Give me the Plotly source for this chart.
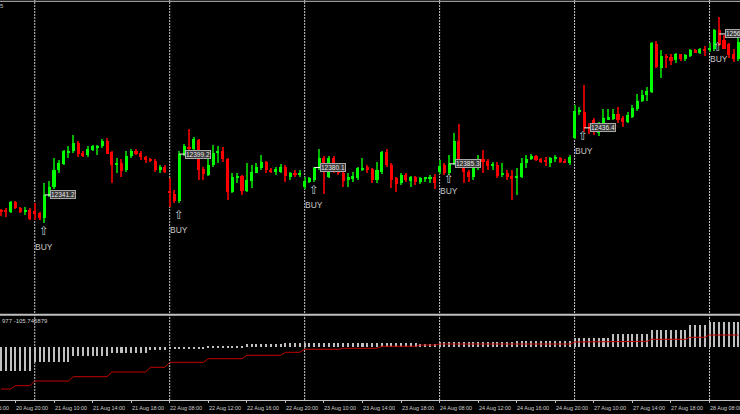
import plotly.graph_objects as go

# ---------------- data (30-minute bars, 20 Aug 18:30 .. 28 Aug) ----------------
opens = [12320, 12320, 12317, 12331, 12323, 12317, 12320, 12319, 12315, 12308,
         12340, 12352, 12376.5, 12385, 12401, 12403, 12415, 12401, 12398, 12405,
         12409, 12410, 12418, 12402, 12383, 12386, 12376, 12396, 12404, 12401,
         12395, 12392, 12390, 12377, 12381, 12346, 12342, 12332, 12398, 12409,
         12407, 12419, 12378, 12369, 12383, 12400.5, 12403, 12392, 12346, 12366,
         12368, 12347, 12361, 12373, 12380, 12388, 12377, 12374, 12374, 12381,
         12367, 12373, 12370, 12352, 12360, 12362, 12379, 12394, 12366, 12393,
         12378, 12372, 12362, 12364, 12365, 12377, 12381, 12378, 12363, 12374,
         12402, 12384, 12365, 12358, 12370, 12361, 12366, 12359, 12364, 12365,
         12367, 12374, 12383, 12372, 12386, 12418, 12388, 12374, 12367, 12380,
         12392, 12389, 12383, 12384, 12369, 12373, 12368, 12366, 12366, 12386,
         12392, 12396.5, 12392, 12391, 12386, 12392, 12393, 12390, 12387, 12422,
         12459, 12459, 12438, 12448, 12429, 12440, 12449, 12449, 12456, 12451,
         12445, 12452, 12463, 12475, 12483, 12488, 12556, 12522, 12538.5, 12537,
         12533, 12541, 12534, 12538, 12547, 12543, 12548, 12547, 12548, 12575,
         12561, 12555, 12542, 12534]
highs = [12321, 12323, 12333, 12333, 12324, 12324, 12323, 12330, 12317, 12358,
         12361, 12393, 12391, 12405, 12411, 12426, 12418, 12404, 12410, 12412,
         12412, 12420, 12422, 12404, 12393, 12392, 12403, 12406, 12406, 12403,
         12397, 12394, 12392, 12384, 12383, 12365, 12348, 12403, 12414, 12435,
         12423, 12421, 12381, 12398, 12412, 12411, 12409, 12394, 12373, 12372,
         12370, 12386, 12384, 12386, 12398, 12390, 12379, 12381, 12385, 12384,
         12374, 12377, 12377, 12367, 12367, 12381, 12407, 12397, 12396, 12396,
         12379.5, 12374, 12373, 12374, 12381, 12393, 12383, 12380, 12388, 12404,
         12407, 12386, 12367, 12372, 12372, 12368, 12368, 12367, 12367, 12370,
         12371, 12391, 12386, 12398, 12429, 12442, 12390, 12376, 12384, 12398,
         12405, 12392, 12388, 12388, 12387, 12377, 12377, 12380, 12393, 12398,
         12399, 12398, 12393.5, 12395, 12395, 12398, 12395, 12392, 12398, 12469,
         12466, 12497, 12444, 12451, 12445, 12463, 12463, 12463, 12466, 12453,
         12459, 12469, 12485, 12490, 12494, 12559, 12560, 12547, 12542, 12542,
         12543, 12542, 12542, 12548, 12548, 12549.5, 12553, 12556.5, 12577, 12594,
         12568, 12557, 12548, 12566]
lows = [12311, 12310, 12316, 12321, 12316, 12313, 12306, 12305, 12305, 12301,
        12338, 12350, 12372, 12383, 12393, 12401, 12395, 12395, 12395, 12403,
        12398, 12408, 12399, 12358, 12373, 12366, 12374, 12394, 12398, 12391,
        12387, 12388, 12374, 12372, 12372, 12324, 12330, 12330, 12396, 12403,
        12405, 12363, 12363, 12368, 12381, 12386, 12388, 12334, 12344, 12358,
        12341, 12345, 12351, 12372, 12377, 12372, 12372, 12369, 12373, 12360,
        12363, 12367, 12366, 12349, 12358, 12360, 12377, 12343, 12365, 12372,
        12369, 12353, 12353, 12360, 12362, 12375, 12372, 12358, 12358, 12371,
        12381, 12351, 12345, 12355, 12360, 12353, 12356, 12357, 12359, 12358,
        12349, 12371, 12369, 12370, 12384, 12381, 12358, 12360, 12362, 12377,
        12372, 12377, 12377, 12365, 12367, 12362, 12334, 12341, 12365, 12380,
        12391, 12390, 12386, 12382, 12381, 12388, 12386, 12386, 12384, 12420,
        12455, 12431, 12428, 12426, 12425, 12438, 12447, 12447, 12443, 12437,
        12443, 12450, 12461, 12473, 12474, 12486, 12521, 12507, 12521, 12526,
        12528, 12532, 12532, 12537, 12542.7, 12542, 12538.5, 12544, 12546, 12552,
        12548, 12536, 12530, 12532]
closes = [12317, 12317, 12331, 12322.5, 12317, 12320, 12307, 12314, 12309, 12341.2,
          12352, 12376.6, 12386, 12403, 12403, 12415, 12400, 12397, 12406, 12410,
          12410.5, 12418, 12400, 12384, 12387, 12375, 12397, 12404, 12399, 12395,
          12391, 12390, 12377, 12381, 12374, 12344.5, 12332, 12399.2, 12410, 12406,
          12421, 12376, 12371, 12384, 12401, 12404, 12392, 12346, 12366, 12368,
          12347, 12362, 12374, 12381, 12388, 12377, 12374, 12377.5, 12381, 12368,
          12372, 12369.5, 12373, 12361, 12365, 12380.1, 12394, 12379, 12393, 12377,
          12372, 12361, 12366, 12368, 12380, 12380, 12377, 12363, 12377, 12402,
          12383, 12362, 12357, 12370, 12362, 12366, 12359, 12365, 12366, 12367,
          12358, 12382, 12372, 12385.3, 12418, 12391, 12374, 12366, 12380, 12385,
          12388, 12382, 12385, 12368, 12372, 12366, 12364, 12367.5, 12386, 12392,
          12397, 12391, 12388, 12388.5, 12393, 12395, 12388, 12387, 12395, 12460,
          12461, 12436.4, 12432, 12431, 12440, 12450, 12451.5, 12456, 12448, 12445,
          12455, 12465, 12475, 12483, 12489, 12557, 12523, 12538, 12537, 12532,
          12541, 12534, 12540, 12547, 12543, 12548, 12546, 12549.5, 12575, 12554,
          12549, 12540, 12534, 12558]

# indicator sub-window (H4 steps shown on M30)
hist_values = ([-243] * 7 + [-150] * 8 + [-93] * 8 + [-60] * 8 + [-33] * 4 +
               [-20] * 8 + [-10] * 8 + [24] * 8 + [34] * 4 + [40] * 8 + [40] * 8 +
               [40] * 8 + [30] * 4 + [47] * 16 + [60] * 12 + [90] * 8 + [127] * 8 +
               [170] * 8 + [214] * 4 + [244] * 7)
line_values = ([-423] * 3 + [-390] * 4 + [-343] * 8 + [-300] * 8 + [-253] * 8 +
               [-206] * 4 + [-156] * 8 + [-120] * 8 + [-86] * 8 + [-56] * 4 +
               [-26] * 8 + [-16] * 8 + [4] * 8 + [17] * 4 + [27] * 28 + [47] * 8 +
               [54] * 8 + [74] * 8 + [94] * 4 + [117] * 7)

tick_bars = [-5, 3, 11, 19, 27, 35, 43, 51, 59, 67, 75, 83, 91, 99, 107, 115, 123, 131, 139, 147]
tick_labels = ["20 Aug 16:00", "20 Aug 20:00", "21 Aug 10:00", "21 Aug 14:00", "21 Aug 18:00",
               "22 Aug 08:00", "22 Aug 12:00", "22 Aug 16:00", "22 Aug 20:00",
               "23 Aug 10:00", "23 Aug 14:00", "23 Aug 18:00", "24 Aug 08:00",
               "24 Aug 12:00", "24 Aug 16:00", "24 Aug 20:00", "27 Aug 10:00",
               "27 Aug 14:00", "27 Aug 18:00", "28 Aug 08:00"]
day_starts = [7, 35, 63, 91, 119, 147]

buy_bars = [9, 37, 65, 93, 121, 149]
buy_prices = [12341.2, 12399.2, 12380.1, 12385.3, 12436.4, 12569.8]
buy_arrow_y = [12289.3, 12312.7, 12347.5, 12363.5, 12424.2, 12551.3]
buy_text_y = [12267.3, 12291.4, 12327.6, 12346.1, 12403.6, 12534.2]

# ---------------- figure ----------------
n = len(opens)
idx = list(range(n))
GREEN, RED = "#00ff00", "#ff0000"
GREEN_W, RED_W = "#00b400", "#c80000"
up = [c >= o for o, c in zip(opens, closes)]

fig = go.Figure()
# wicks
fig.add_trace(go.Bar(
    x=idx, y=[h - l for h, l in zip(highs, lows)], base=lows, width=0.22,
    marker=dict(color=[GREEN_W if u else RED_W for u in up], line=dict(width=0)),
    hoverinfo="skip", showlegend=False, xaxis="x", yaxis="y"))
# bodies
fig.add_trace(go.Bar(
    x=idx, y=[abs(c - o) for o, c in zip(opens, closes)],
    base=[min(o, c) for o, c in zip(opens, closes)], width=0.64,
    marker=dict(color=[GREEN if u else RED for u in up], line=dict(width=0)),
    showlegend=False, xaxis="x", yaxis="y"))
# indicator
fig.add_trace(go.Bar(x=idx, y=hist_values, width=0.42,
                     marker=dict(color="#c0c0c0", line=dict(width=0)),
                     showlegend=False, xaxis="x2", yaxis="y2"))
fig.add_trace(go.Scatter(x=idx, y=line_values, mode="lines",
                         line=dict(color="#c00000", width=1),
                         showlegend=False, xaxis="x2", yaxis="y2"))

H = 414.0
W = 740.0
xr = [-0.207, 153.32]
FONT = "Liberation Sans, Arial, sans-serif"


def bar_to_paper(b):
    return (b - xr[0]) / (xr[1] - xr[0])


shapes = []
# window borders
shapes.append(dict(type="line", xref="paper", yref="paper", x0=0, x1=1,
                   y0=1 - 1.3 / H, y1=1 - 1.3 / H, line=dict(color="#c0c0c0", width=1)))
shapes.append(dict(type="line", xref="paper", yref="paper", x0=0, x1=1,
                   y0=99.3 / H, y1=99.3 / H, line=dict(color="#c0c0c0", width=2)))
# day separators
for d in day_starts:
    shapes.append(dict(type="line", xref="x", yref="paper", x0=d, x1=d,
                       y0=14 / H, y1=1, layer="below",
                       line=dict(color="#c8c8c8", width=1, dash="2px,1px")))
# leader lines to price labels
for b, p in zip(buy_bars, buy_prices):
    shapes.append(dict(type="line", xref="x", yref="y", x0=b, x1=b + 1.25,
                       y0=p, y1=p, line=dict(color="#ffffff", width=1)))

ann = []
for b, p, ay, ty in zip(buy_bars, buy_prices, buy_arrow_y, buy_text_y):
    ann.append(dict(x=b + 1.25, y=p, xref="x", yref="y", text=f"{p:.1f}",
                    showarrow=False, xanchor="left", yanchor="middle",
                    font=dict(family=FONT, size=6.5, color="#e8e8e8"),
                    bgcolor="#3a3a3a", bordercolor="#a8a8a8", borderwidth=1, borderpad=0))
    ann.append(dict(x=b - 0.15, y=ay, xref="x", yref="y", text="⇧", showarrow=False,
                    font=dict(family="DejaVu Sans", size=12, color="#c0c8d0")))
    ann.append(dict(x=b, y=ty, xref="x", yref="y", text="BUY", showarrow=False,
                    font=dict(family=FONT, size=8.5, color="#c8c8c8")))
for tb, tl in zip(tick_bars, tick_labels):
    ann.append(dict(x=bar_to_paper(tb), y=(H - 407.5) / H, xref="paper", yref="paper",
                    text=tl, showarrow=False, xanchor="left", yanchor="middle",
                    xshift=-1.5, font=dict(family=FONT, size=5.45, color="#d0d0d0")))
ann.append(dict(x=0, y=(H - 321) / H, xref="paper", yref="paper",
                text="977 -105.745879", showarrow=False, xanchor="left", yanchor="middle",
                font=dict(family=FONT, size=6, color="#d0d0d0")))
ann.append(dict(x=-0.003, y=(H - 6) / H, xref="paper", yref="paper",
                text="5", showarrow=False, xanchor="left", yanchor="middle",
                font=dict(family=FONT, size=6, color="#c0c0c0")))

fig.update_layout(
    width=740, height=414, margin=dict(l=0, r=0, t=0, b=0),
    paper_bgcolor="#000000", plot_bgcolor="#000000",
    barmode="overlay", bargap=0, showlegend=False,
    xaxis=dict(domain=[0, 1], range=xr, showticklabels=False, showgrid=False,
               zeroline=False, anchor="y", fixedrange=True),
    yaxis=dict(domain=[99 / H, 1], range=[12170.7, 12618], showticklabels=False,
               showgrid=False, zeroline=False, fixedrange=True),
    xaxis2=dict(domain=[0, 1], range=xr, matches="x", anchor="y2", showgrid=False,
                zeroline=False, showline=True, linecolor="#c0c0c0", linewidth=1,
                ticks="outside", ticklen=2, tickcolor="#c0c0c0", tickvals=tick_bars,
                showticklabels=False),
    yaxis2=dict(domain=[14 / H, 99 / H], range=[-533, 317], showticklabels=False,
                showgrid=False, zeroline=False, fixedrange=True),
    shapes=shapes, annotations=ann,
)

fig.write_html(
    "out.html",
    config={"displayModeBar": False},
    post_script="document.body.style.margin='0';document.body.style.background='#000';",
)
